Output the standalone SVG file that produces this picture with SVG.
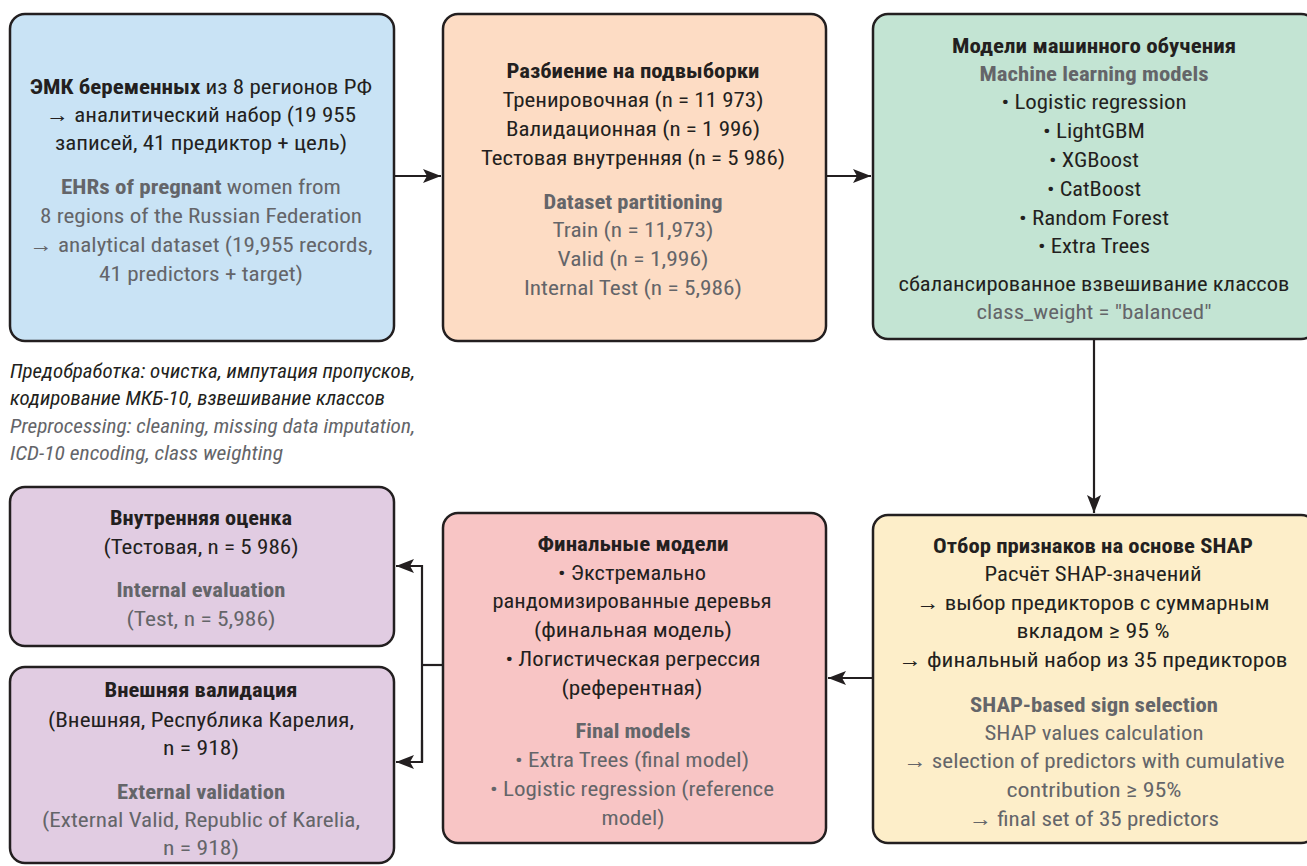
<svg xmlns="http://www.w3.org/2000/svg" width="1307" height="866" viewBox="0 0 1307 866">
<style>
text{font-family:"Roboto Condensed","Liberation Sans Narrow",Roboto,"Liberation Sans",sans-serif;font-size:21px;text-anchor:middle;fill:#231f20}
.b{font-weight:bold}
.g{fill:#646569}
.it{font-style:italic;text-anchor:start;font-size:19.5px}
.box{stroke:#231f20;stroke-width:2.5}
.conn{stroke:#231f20;stroke-width:2.2;fill:none}
</style>
<defs>
<marker id="ah" viewBox="0 0 18 14" refX="18" refY="7" markerWidth="18" markerHeight="14" markerUnits="userSpaceOnUse" orient="auto">
<path d="M0,0 L18,7 L0,14 L4,7 Z" fill="#231f20"/>
</marker>
</defs>
<rect width="1307" height="866" fill="#ffffff"/>

<g id="connectors">
<line class="conn" x1="395" y1="176" x2="441" y2="176" marker-end="url(#ah)"/>
<line class="conn" x1="827" y1="176" x2="871" y2="176" marker-end="url(#ah)"/>
<line class="conn" x1="1094" y1="340" x2="1094" y2="513" marker-end="url(#ah)"/>
<line class="conn" x1="1307" y1="678" x2="828" y2="678" marker-end="url(#ah)"/>
<polyline class="conn" points="442,665 422,665"/>
<polyline class="conn" points="422,762 422,566 396,566" marker-end="url(#ah)"/>
<polyline class="conn" points="422,740 422,762 396,762" marker-end="url(#ah)"/>
</g>

<g id="node-ehr">
<rect class="box" x="10" y="14" width="384" height="327" rx="15" fill="#c9e3f5"/>
<text x="201" y="94" textLength="342" lengthAdjust="spacingAndGlyphs"><tspan class="b">ЭМК беременных</tspan> из 8 регионов РФ</text>
<text x="201" y="122" textLength="310" lengthAdjust="spacingAndGlyphs">→ аналитический набор (19 955</text>
<text x="201" y="150" textLength="292" lengthAdjust="spacingAndGlyphs">записей, 41 предиктор + цель)</text>
<text class="g" x="201" y="194" textLength="280" lengthAdjust="spacingAndGlyphs"><tspan class="b">EHRs of pregnant</tspan> women from</text>
<text class="g" x="201" y="223" textLength="322" lengthAdjust="spacingAndGlyphs">8 regions of the Russian Federation</text>
<text class="g" x="201" y="252" textLength="343" lengthAdjust="spacingAndGlyphs">→ analytical dataset (19,955 records,</text>
<text class="g" x="201" y="281" textLength="204" lengthAdjust="spacingAndGlyphs">41 predictors + target)</text>
</g>

<g id="node-split">
<rect class="box" x="443" y="14" width="383" height="327" rx="15" fill="#fddcc4"/>
<text class="b" x="633" y="78" textLength="253" lengthAdjust="spacingAndGlyphs">Разбиение на подвыборки</text>
<text x="633" y="107" textLength="261" lengthAdjust="spacingAndGlyphs">Тренировочная (n = 11 973)</text>
<text x="633" y="136" textLength="254" lengthAdjust="spacingAndGlyphs">Валидационная (n = 1 996)</text>
<text x="633" y="165" textLength="304" lengthAdjust="spacingAndGlyphs">Тестовая внутренняя (n = 5 986)</text>
<text class="b g" x="633" y="209" textLength="179" lengthAdjust="spacingAndGlyphs">Dataset partitioning</text>
<text class="g" x="633" y="237" textLength="161" lengthAdjust="spacingAndGlyphs">Train (n = 11,973)</text>
<text class="g" x="633" y="266" textLength="151" lengthAdjust="spacingAndGlyphs">Valid (n = 1,996)</text>
<text class="g" x="633" y="295" textLength="218" lengthAdjust="spacingAndGlyphs">Internal Test (n = 5,986)</text>
</g>

<g id="node-models">
<rect class="box" x="873" y="14" width="443" height="325" rx="15" fill="#c3e4d3"/>
<text class="b" x="1094" y="53" textLength="284" lengthAdjust="spacingAndGlyphs">Модели машинного обучения</text>
<text class="b g" x="1094" y="81" textLength="229" lengthAdjust="spacingAndGlyphs">Machine learning models</text>
<text x="1094" y="109" textLength="185" lengthAdjust="spacingAndGlyphs">• Logistic regression</text>
<text x="1094" y="138" textLength="102" lengthAdjust="spacingAndGlyphs">• LightGBM</text>
<text x="1094" y="167" textLength="90" lengthAdjust="spacingAndGlyphs">• XGBoost</text>
<text x="1094" y="196" textLength="94" lengthAdjust="spacingAndGlyphs">• CatBoost</text>
<text x="1094" y="225" textLength="150" lengthAdjust="spacingAndGlyphs">• Random Forest</text>
<text x="1094" y="253" textLength="112" lengthAdjust="spacingAndGlyphs">• Extra Trees</text>
<text x="1094" y="291" textLength="391" lengthAdjust="spacingAndGlyphs">сбалансированное взвешивание классов</text>
<text class="g" x="1094" y="319" textLength="235" lengthAdjust="spacingAndGlyphs">class_weight = "balanced"</text>
</g>

<g id="node-preprocessing">
<text class="it" x="10" y="378" textLength="405" lengthAdjust="spacingAndGlyphs">Предобработка: очистка, импутация пропусков,</text>
<text class="it" x="10" y="405" textLength="375" lengthAdjust="spacingAndGlyphs">кодирование МКБ-10, взвешивание классов</text>
<text class="it g" x="10" y="433" textLength="405" lengthAdjust="spacingAndGlyphs">Preprocessing: cleaning, missing data imputation,</text>
<text class="it g" x="10" y="460" textLength="273" lengthAdjust="spacingAndGlyphs">ICD-10 encoding, class weighting</text>
</g>

<g id="node-shap">
<rect class="box" x="873" y="515" width="443" height="328" rx="15" fill="#fdeec9"/>
<text class="b" x="1093" y="553" textLength="320" lengthAdjust="spacingAndGlyphs">Отбор признаков на основе SHAP</text>
<text x="1093" y="581" textLength="217" lengthAdjust="spacingAndGlyphs">Расчёт SHAP-значений</text>
<text x="1093" y="610" textLength="353" lengthAdjust="spacingAndGlyphs">→ выбор предикторов с суммарным</text>
<text x="1093" y="638" textLength="153" lengthAdjust="spacingAndGlyphs">вкладом ≥ 95 %</text>
<text x="1093" y="667" textLength="389" lengthAdjust="spacingAndGlyphs">→ финальный набор из 35 предикторов</text>
<text class="b g" x="1094" y="712" textLength="248" lengthAdjust="spacingAndGlyphs">SHAP-based sign selection</text>
<text class="g" x="1094" y="740" textLength="219" lengthAdjust="spacingAndGlyphs">SHAP values calculation</text>
<text class="g" x="1094" y="768" textLength="381" lengthAdjust="spacingAndGlyphs">→ selection of predictors with cumulative</text>
<text class="g" x="1094" y="797" textLength="175" lengthAdjust="spacingAndGlyphs">contribution ≥ 95%</text>
<text class="g" x="1094" y="826" textLength="250" lengthAdjust="spacingAndGlyphs">→ final set of 35 predictors</text>
</g>

<g id="node-final">
<rect class="box" x="443" y="513" width="383" height="330" rx="15" fill="#f8c5c5"/>
<text class="b" x="633" y="551" textLength="191" lengthAdjust="spacingAndGlyphs">Финальные модели</text>
<text x="632" y="580" textLength="148" lengthAdjust="spacingAndGlyphs">• Экстремально</text>
<text x="632" y="608" textLength="279" lengthAdjust="spacingAndGlyphs">рандомизированные деревья</text>
<text x="633" y="637" textLength="198" lengthAdjust="spacingAndGlyphs">(финальная модель)</text>
<text x="633" y="666" textLength="255" lengthAdjust="spacingAndGlyphs">• Логистическая регрессия</text>
<text x="632" y="695" textLength="141" lengthAdjust="spacingAndGlyphs">(референтная)</text>
<text class="b g" x="633" y="738" textLength="115" lengthAdjust="spacingAndGlyphs">Final models</text>
<text class="g" x="632" y="767" textLength="234" lengthAdjust="spacingAndGlyphs">• Extra Trees (final model)</text>
<text class="g" x="632" y="796" textLength="284" lengthAdjust="spacingAndGlyphs">• Logistic regression (reference</text>
<text class="g" x="633" y="825" textLength="63" lengthAdjust="spacingAndGlyphs">model)</text>
</g>

<g id="node-internal">
<rect class="box" x="10" y="487" width="384" height="159" rx="15" fill="#e1cce2"/>
<text class="b" x="201" y="525" textLength="182" lengthAdjust="spacingAndGlyphs">Внутренняя оценка</text>
<text x="201" y="554" textLength="195" lengthAdjust="spacingAndGlyphs">(Тестовая, n = 5 986)</text>
<text class="b g" x="201" y="597" textLength="169" lengthAdjust="spacingAndGlyphs">Internal evaluation</text>
<text class="g" x="201" y="626" textLength="149" lengthAdjust="spacingAndGlyphs">(Test, n = 5,986)</text>
</g>

<g id="node-external">
<rect class="box" x="10" y="667" width="384" height="196" rx="15" fill="#e1cce2"/>
<text class="b" x="201" y="697" textLength="193" lengthAdjust="spacingAndGlyphs">Внешняя валидация</text>
<text x="201" y="727" textLength="306" lengthAdjust="spacingAndGlyphs">(Внешняя, Республика Карелия,</text>
<text x="201" y="755" textLength="76" lengthAdjust="spacingAndGlyphs">n = 918)</text>
<text class="b g" x="201" y="799" textLength="168" lengthAdjust="spacingAndGlyphs">External validation</text>
<text class="g" x="201" y="827" textLength="318" lengthAdjust="spacingAndGlyphs">(External Valid, Republic of Karelia,</text>
<text class="g" x="201" y="855" textLength="76" lengthAdjust="spacingAndGlyphs">n = 918)</text>
</g>
</svg>
